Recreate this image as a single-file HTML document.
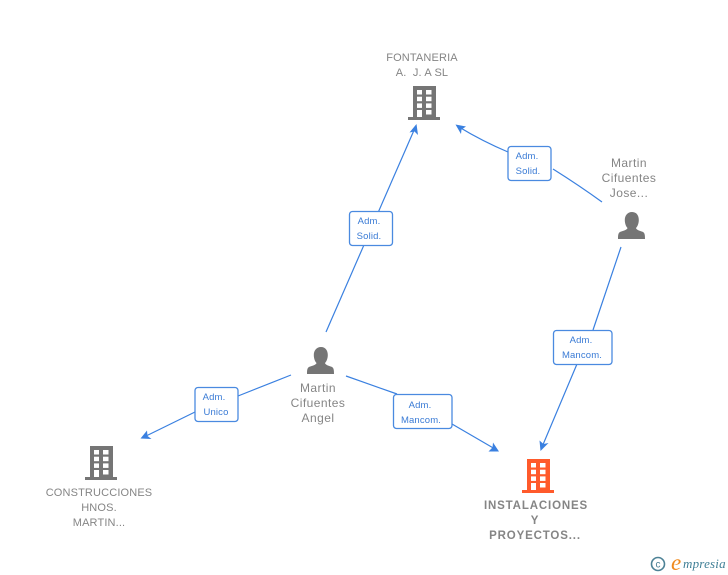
<!DOCTYPE html>
<html><head><meta charset="utf-8">
<style>
html,body{margin:0;padding:0;background:#fff;width:728px;height:575px;overflow:hidden}
svg{display:block}
text{font-family:"Liberation Sans",sans-serif}
.n{font-size:12px;fill:#858585;text-anchor:middle;letter-spacing:.45px}
.c{font-size:11px;fill:#858585;text-anchor:middle;letter-spacing:.15px}
.b{font-size:11.500px;font-weight:bold;fill:#858585;text-anchor:middle;letter-spacing:.85px}
.l{font-size:9.500px;fill:#3a7bd5;text-anchor:middle;letter-spacing:.15px}
.e{fill:none;stroke:#3a80e0;stroke-width:1.200}
.a{fill:#3a80e0}
.box{fill:#fff;stroke:#4a8ae0;stroke-width:1.300}
</style></head><body>
<svg width="728" height="575" viewBox="0 0 728 575" xmlns="http://www.w3.org/2000/svg">
<defs>
<g id="bld">
<path d="M5 0H28V31H32V34H0V31H5Z" fill="currentColor"/>
<g fill="#fff">
<rect x="9" y="4" width="5" height="4.500"/><rect x="18" y="4" width="5.500" height="4.500"/>
<rect x="9" y="10.700" width="5" height="4.500"/><rect x="18" y="10.700" width="5.500" height="4.500"/>
<rect x="9" y="17.400" width="5" height="4.500"/><rect x="18" y="17.400" width="5.500" height="4.500"/>
<rect x="9" y="24" width="5" height="7"/><rect x="18" y="24" width="5.500" height="4.500"/>
</g>
</g>
<g id="per">
<path d="M14 0C18.500 0 20.800 3.500 20.800 8C20.800 11.500 19.500 14.500 18 16C18.500 18 21.500 18.600 24.500 19.800C26.800 20.800 27 23 27 27H0C0 23 .2 20.800 2.500 19.800C5.500 18.600 9 18 9.500 16C8 14.500 6.800 11.500 6.800 8C6.800 3.500 9.500 0 14 0Z" fill="#757575"/>
</g>
</defs>

<path class="e" d="M326 332L415 128"/>
<path class="a" d="M416.500 124L418 135L414.500 131.500L409.500 132.500Z"/>

<path class="e" d="M602 202Q580 186 553 169M508 152Q482 141 459 127"/>
<path class="a" d="M455.500 124.500L466 126.500L461.500 129.500L461 134Z"/>

<path class="e" d="M621 247L593 330M577 364L542 447"/>
<path class="a" d="M540.500 451L539.500 440.500L543.500 444L548.500 443Z"/>

<path class="e" d="M291 375L238 396M195 412L144 437"/>
<path class="a" d="M140.500 438.500L147 430.500L147.500 436L151.500 439Z"/>

<path class="e" d="M346 376L397 394M452 424L495 449"/>
<path class="a" d="M499 451.500L488.500 451.500L492.500 447.500L493 442.500Z"/>

<rect class="box" x="349.500" y="211.500" width="43" height="34" rx="3"/>
<text class="l" x="369" y="224">Adm.</text><text class="l" x="369" y="239">Solid.</text>

<rect class="box" x="508" y="146.500" width="43" height="34" rx="3"/>
<text class="l" x="527" y="159">Adm.</text><text class="l" x="528" y="174">Solid.</text>

<rect class="box" x="553.500" y="330.500" width="58.500" height="34" rx="3"/>
<text class="l" x="581" y="343">Adm.</text><text class="l" x="582" y="358">Mancom.</text>

<rect class="box" x="393.500" y="394.500" width="58.500" height="34" rx="3"/>
<text class="l" x="420" y="408">Adm.</text><text class="l" x="421" y="423">Mancom.</text>

<rect class="box" x="195" y="387.500" width="43" height="34" rx="3"/>
<text class="l" x="214" y="400">Adm.</text><text class="l" x="216" y="415">Unico</text>

<use href="#bld" x="408" y="86" color="#757575"/>
<use href="#bld" x="85" y="446" color="#757575"/>
<use href="#bld" x="522" y="459" color="#ff5a2b"/>
<use href="#per" x="618" y="212"/>
<use href="#per" x="307" y="347"/>

<text class="c" x="422" y="61">FONTANERIA</text>
<text class="c" x="422" y="76" xml:space="preserve">A.  J. A SL</text>

<text class="n" x="629" y="167">Martin</text>
<text class="n" x="629" y="182">Cifuentes</text>
<text class="n" x="629" y="197">Jose...</text>

<text class="n" x="318" y="392">Martin</text>
<text class="n" x="318" y="407">Cifuentes</text>
<text class="n" x="318" y="422">Angel</text>

<text class="c" x="99" y="496">CONSTRUCCIONES</text>
<text class="c" x="99" y="511">HNOS.</text>
<text class="c" x="99" y="526">MARTIN...</text>

<text class="b" x="536" y="509">INSTALACIONES</text>
<text class="b" x="535" y="524">Y</text>
<text class="b" x="535" y="539">PROYECTOS...</text>

<circle cx="658" cy="564" r="6.500" fill="none" stroke="#4d8296" stroke-width="1.600"/>
<text x="658" y="567.500" text-anchor="middle" style="font-size:10px;fill:#4d8296">c</text>
<text x="671" y="570" style="font-family:'Liberation Serif',serif;font-style:italic;font-size:23px;fill:#f08a1d">e</text>
<text x="683" y="568" style="font-family:'Liberation Serif',serif;font-style:italic;font-size:13px;letter-spacing:.2px;fill:#3f7f96">mpresia</text>
</svg>
</body></html>
